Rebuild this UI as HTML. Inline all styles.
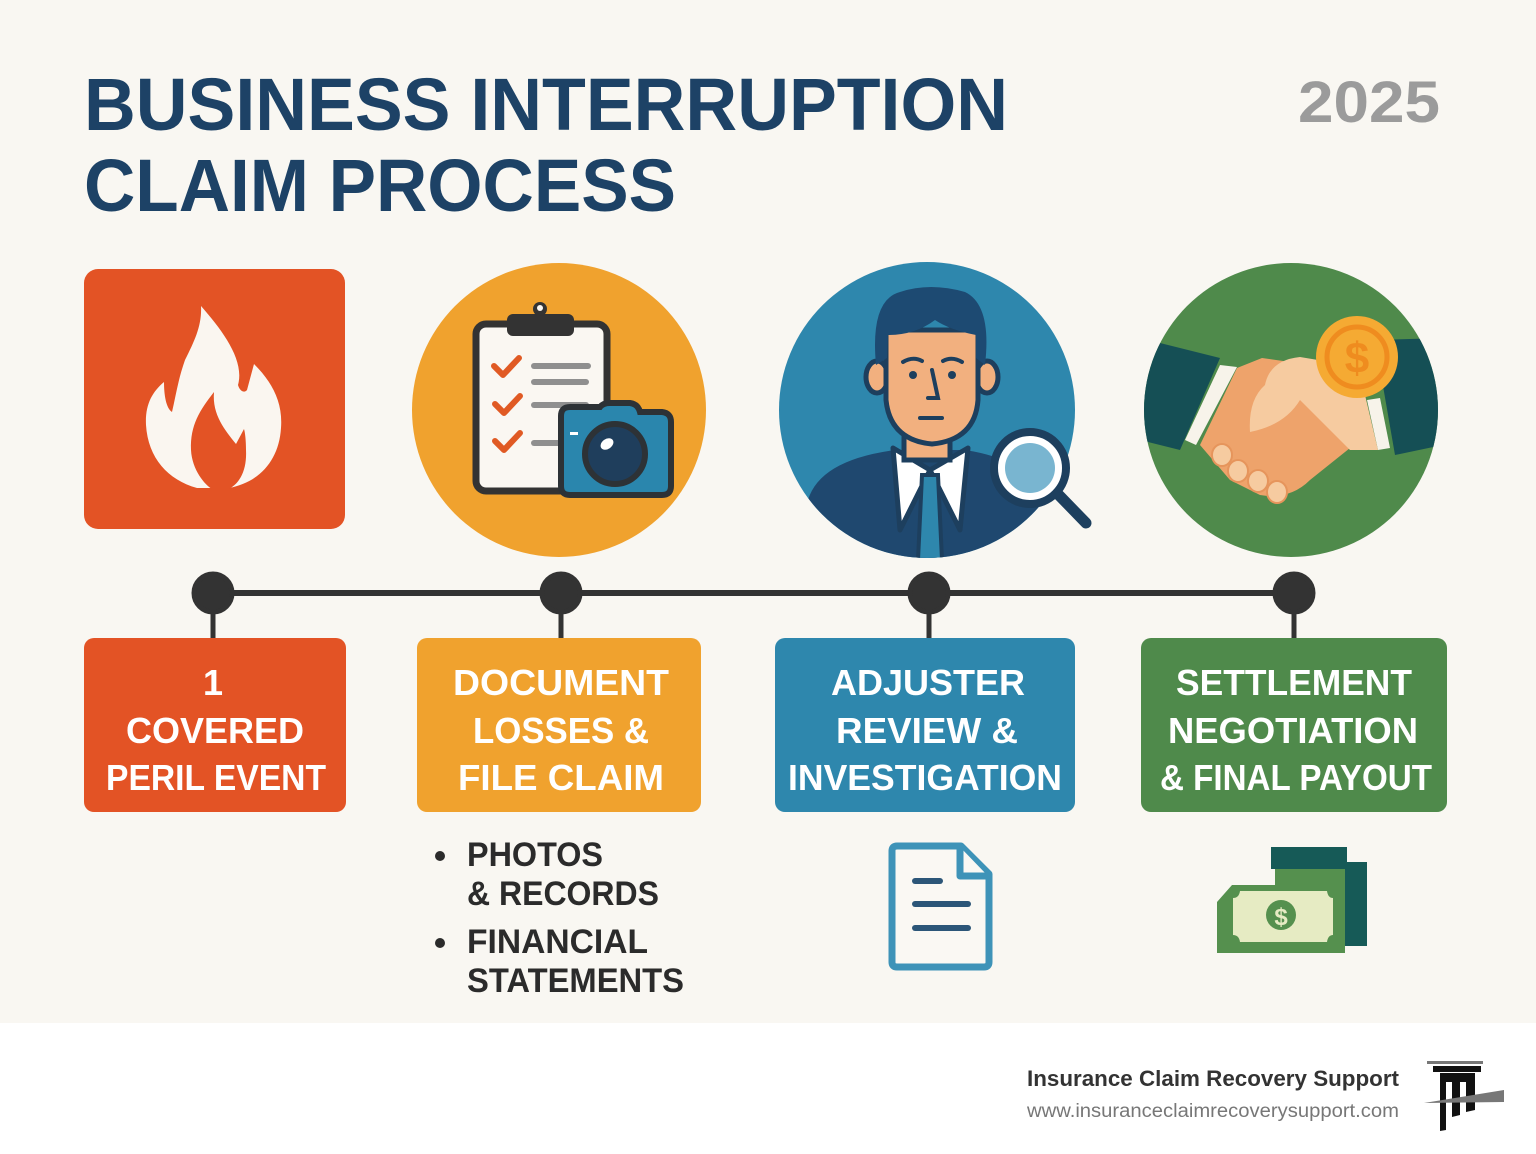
<!DOCTYPE html>
<html><head><meta charset="utf-8"><style>
html,body{margin:0;padding:0;background:#fff}
svg{display:block}
text{font-family:"Liberation Sans",sans-serif;font-weight:bold}
</style></head><body>
<svg width="1536" height="1154" viewBox="0 0 1536 1154" xmlns="http://www.w3.org/2000/svg">
<rect x="0" y="0" width="1536" height="1023" fill="#f9f7f2"/>
<rect x="0" y="1023" width="1536" height="131" fill="#ffffff"/>

<!-- Title -->
<text x="84" y="130" font-size="74" fill="#1d4266" textLength="924" lengthAdjust="spacingAndGlyphs">BUSINESS INTERRUPTION</text>
<text x="84" y="211" font-size="74" fill="#1d4266" textLength="592" lengthAdjust="spacingAndGlyphs">CLAIM PROCESS</text>
<text x="1298" y="122" font-size="58" fill="#9b9b9b" textLength="142" lengthAdjust="spacingAndGlyphs">2025</text>

<!-- Fire square -->
<rect x="84" y="269" width="261" height="260" rx="14" fill="#e35325"/>
<path d="M201,306 C222,330 245,360 238,385 C240,392 245,393 247,390 L254,364 C272,382 283,402 281,428 C279,460 260,482 229,488 L197,488 C168,480 148,458 146,425 C145,405 152,392 164,382 C164,395 166,408 172,412 C176,395 178,380 185,360 C195,340 202,325 201,306 Z" fill="#faf6f0"/>
<path d="M214,392 C200,410 190,425 191,450 C192,470 205,485 212,489 L229,489 C240,483 247,470 246,450 C246,440 245,432 244,429 L236,444 C225,430 212,415 214,392 Z" fill="#e35325"/>

<!-- Orange circle -->
<circle cx="559" cy="410" r="147" fill="#f0a22e"/>
<rect x="476" y="324" width="131" height="167" rx="10" fill="#faf7f2" stroke="#333" stroke-width="7"/>
<rect x="507" y="314" width="67" height="22" rx="6" fill="#333"/>
<circle cx="540" cy="309" r="7" fill="#333"/><circle cx="540" cy="308" r="3" fill="#faf7f2"/>
<g stroke="#e05a24" stroke-width="6" fill="none" stroke-linecap="round" stroke-linejoin="round">
<path d="M494,366 L503,375 L519,358"/><path d="M495,404 L504,413 L520,396"/><path d="M495,441 L504,450 L520,433"/></g>
<g stroke="#8f8f8f" stroke-width="6" stroke-linecap="round">
<line x1="534" y1="366" x2="588" y2="366"/><line x1="534" y1="382" x2="586" y2="382"/><line x1="534" y1="405" x2="586" y2="405"/><line x1="534" y1="443" x2="560" y2="443"/></g>
<path d="M561,416 Q561,407 570,407 L600,407 Q603,403 610,403 L630,403 Q638,404 640,412 L662,412 Q671,413 671,422 L671,486 Q671,495 662,495 L570,495 Q561,495 561,486 Z" fill="#2a86ad" stroke="#2d3236" stroke-width="6"/>
<circle cx="615" cy="454" r="30" fill="#1f3e5c" stroke="#2d3236" stroke-width="6"/>
<ellipse cx="607" cy="444" rx="7" ry="5" fill="#fff" transform="rotate(-35 607 444)"/>
<rect x="570" y="432" width="8" height="3" fill="#fff"/>

<!-- Blue circle person -->
<defs><clipPath id="cb"><circle cx="927" cy="410" r="148"/></clipPath>
<clipPath id="cg"><circle cx="1291" cy="410" r="147"/></clipPath></defs>
<circle cx="927" cy="410" r="148" fill="#2e87ad"/>
<g clip-path="url(#cb)">
<path d="M808,500 Q820,460 895,450 L965,450 Q1030,460 1050,500 L1070,600 L790,600 Z" fill="#1f486f"/>
<path d="M893,448 L930,470 L968,448 L960,530 L930,470 L900,530 Z" fill="#fff" stroke="#1d3f5e" stroke-width="5" stroke-linejoin="round"/>
<path d="M922,475 L938,475 L942,560 L918,560 Z" fill="#2e87ad" stroke="#1d3f5e" stroke-width="4"/>
</g>
<rect x="904" y="420" width="46" height="40" fill="#f2b07f" stroke="#1d3f5e" stroke-width="5"/>
<ellipse cx="877" cy="377" rx="11" ry="16" fill="#f2b07f" stroke="#1d3f5e" stroke-width="5"/>
<ellipse cx="987" cy="377" rx="11" ry="16" fill="#f2b07f" stroke="#1d3f5e" stroke-width="5"/>
<path d="M886,330 L978,330 L978,400 Q975,440 932,444 Q890,440 886,400 Z" fill="#f2b07f" stroke="#1d3f5e" stroke-width="5"/>
<path d="M876,365 Q870,300 900,292 Q930,282 965,292 Q992,305 985,365 L976,358 L976,335 Q950,330 935,320 Q915,335 888,335 L887,358 Z" fill="#1d4a72"/>
<circle cx="913" cy="375" r="4" fill="#1d3f5e"/><circle cx="952" cy="375" r="4" fill="#1d3f5e"/>
<path d="M903,362 Q913,356 922,361 M943,361 Q952,356 962,362" stroke="#1d3f5e" stroke-width="4" fill="none" stroke-linecap="round"/>
<path d="M932,370 L938,398 L928,398" stroke="#1d3f5e" stroke-width="4" fill="none" stroke-linecap="round"/>
<line x1="920" y1="418" x2="942" y2="418" stroke="#1d3f5e" stroke-width="4" stroke-linecap="round"/>
<line x1="1052" y1="488" x2="1086" y2="523" stroke="#1d3f5e" stroke-width="11" stroke-linecap="round"/>
<circle cx="1030" cy="468" r="36" fill="#fff" stroke="#1d3f5e" stroke-width="8"/>
<circle cx="1030" cy="468" r="25" fill="#79b5d0"/>

<!-- Green circle handshake -->
<circle cx="1291" cy="410" r="147" fill="#4f8a4b"/>
<g clip-path="url(#cg)">
<path d="M1140,338 L1220,358 L1180,450 L1140,440 Z" fill="#154f55"/>
<path d="M1443,338 L1375,340 L1395,455 L1443,445 Z" fill="#154f55"/>
</g>
<path d="M1220,365 L1237,367 L1196,445 L1185,440 Z" fill="#f7f3ea"/>
<path d="M1367,400 L1380,398 L1390,448 L1378,450 Z" fill="#f7f3ea"/>
<path d="M1237,368 L1262,358 L1290,362 L1320,380 L1360,430 Q1365,445 1350,448 L1310,480 Q1290,500 1260,495 L1230,480 L1200,445 Z" fill="#eea36b"/>
<path d="M1265,385 Q1270,360 1300,357 L1330,362 L1365,395 L1378,450 L1350,450 L1300,400 Q1285,425 1250,432 Q1248,400 1265,385 Z" fill="#f6cba0"/>
<g fill="#f6cba0" stroke="#e6955c" stroke-width="2">
<ellipse cx="1222" cy="455" rx="10" ry="11"/><ellipse cx="1238" cy="471" rx="10" ry="11"/><ellipse cx="1258" cy="481" rx="10" ry="11"/><ellipse cx="1277" cy="492" rx="10" ry="11"/></g>
<circle cx="1357" cy="357" r="41" fill="#f5aa33"/>
<circle cx="1357" cy="357" r="30" fill="none" stroke="#ef8c1f" stroke-width="5"/>
<text x="1357" y="373" font-size="44" fill="#ef8c1f" text-anchor="middle">$</text>

<!-- Timeline -->
<line x1="213" y1="593" x2="1294" y2="593" stroke="#333" stroke-width="6"/>
<g fill="#333" stroke="#333" stroke-width="5">
<circle cx="213" cy="593" r="19"/><line x1="213" y1="593" x2="213" y2="640"/>
<circle cx="561" cy="593" r="19"/><line x1="561" y1="593" x2="561" y2="640"/>
<circle cx="929" cy="593" r="19"/><line x1="929" y1="593" x2="929" y2="640"/>
<circle cx="1294" cy="593" r="19"/><line x1="1294" y1="593" x2="1294" y2="640"/>
</g>

<!-- Boxes -->
<rect x="84" y="638" width="262" height="174" rx="10" fill="#e35325"/>
<rect x="417" y="638" width="284" height="174" rx="10" fill="#f0a22e"/>
<rect x="775" y="638" width="300" height="174" rx="10" fill="#2e87ad"/>
<rect x="1141" y="638" width="306" height="174" rx="10" fill="#4f8a4b"/>
<g fill="#fff" font-size="36" text-anchor="middle">
<text x="213" y="695">1</text>
<text x="215" y="743" textLength="178" lengthAdjust="spacingAndGlyphs">COVERED</text>
<text x="216" y="790" textLength="220" lengthAdjust="spacingAndGlyphs">PERIL EVENT</text>
<text x="561" y="695" textLength="216" lengthAdjust="spacingAndGlyphs">DOCUMENT</text>
<text x="561" y="743" textLength="176" lengthAdjust="spacingAndGlyphs">LOSSES &amp;</text>
<text x="561" y="790" textLength="206" lengthAdjust="spacingAndGlyphs">FILE CLAIM</text>
<text x="928" y="695" textLength="194" lengthAdjust="spacingAndGlyphs">ADJUSTER</text>
<text x="927" y="743" textLength="182" lengthAdjust="spacingAndGlyphs">REVIEW &amp;</text>
<text x="925" y="790" textLength="274" lengthAdjust="spacingAndGlyphs">INVESTIGATION</text>
<text x="1294" y="695" textLength="236" lengthAdjust="spacingAndGlyphs">SETTLEMENT</text>
<text x="1293" y="743" textLength="250" lengthAdjust="spacingAndGlyphs">NEGOTIATION</text>
<text x="1296" y="790" textLength="272" lengthAdjust="spacingAndGlyphs">&amp; FINAL PAYOUT</text>
</g>

<!-- Bullets -->
<g fill="#2b2b2b" font-size="34">
<circle cx="440" cy="856" r="5"/><circle cx="440" cy="943" r="5"/>
<text x="467" y="866" textLength="136" lengthAdjust="spacingAndGlyphs">PHOTOS</text>
<text x="467" y="905" textLength="192" lengthAdjust="spacingAndGlyphs">&amp; RECORDS</text>
<text x="467" y="953" textLength="181" lengthAdjust="spacingAndGlyphs">FINANCIAL</text>
<text x="467" y="992" textLength="217" lengthAdjust="spacingAndGlyphs">STATEMENTS</text>
</g>

<!-- Document icon -->
<path d="M897,846 L961,846 L989,874 L989,962 Q989,967 984,967 L897,967 Q892,967 892,962 L892,851 Q892,846 897,846 Z" fill="#faf8f3" stroke="#3e93b8" stroke-width="7" stroke-linejoin="round"/>
<path d="M960,847 L960,876 L988,876" fill="#faf8f3" stroke="#3e93b8" stroke-width="7" stroke-linejoin="round"/>
<g stroke="#2c5678" stroke-width="6" stroke-linecap="round">
<line x1="915" y1="881" x2="940" y2="881"/><line x1="915" y1="904" x2="968" y2="904"/><line x1="915" y1="928" x2="968" y2="928"/></g>

<!-- Money -->
<rect x="1271" y="847" width="76" height="22" fill="#165a57"/>
<rect x="1345" y="862" width="22" height="84" fill="#165a57"/>
<path d="M1275,869 L1345,869 L1345,953 L1217,953 L1217,902 L1232,885 L1275,885 Z" fill="#55904e"/>
<path d="M1240,891 L1327,891 Q1328,898 1333,898 L1333,935 Q1328,935 1327,942 L1240,942 Q1239,935 1233,935 L1233,898 Q1239,898 1240,891 Z" fill="#e6ebc3"/>
<circle cx="1281" cy="915" r="15" fill="#55904e"/>
<text x="1281" y="925" font-size="24" fill="#e6ebc3" text-anchor="middle">$</text>

<!-- Footer -->
<text x="1399" y="1086" font-size="22" fill="#333" text-anchor="end" textLength="372" lengthAdjust="spacingAndGlyphs">Insurance Claim Recovery Support</text>
<text x="1399" y="1117" font-size="19" fill="#777" font-weight="normal" style="font-weight:normal" text-anchor="end" textLength="372" lengthAdjust="spacingAndGlyphs">www.insuranceclaimrecoverysupport.com</text>
<rect x="1427" y="1061" width="56" height="3" fill="#777"/>
<rect x="1433" y="1066" width="48" height="6" fill="#111"/>
<path d="M1440,1073 L1475,1073 L1475,1110 L1466,1112 L1466,1082 L1460,1082 L1460,1115 L1452,1117 L1452,1082 L1446,1082 L1446,1130 L1440,1131 Z" fill="#111"/>
<path d="M1424,1103 L1504,1090 L1504,1102 Z" fill="#777"/>
</svg>
</body></html>
